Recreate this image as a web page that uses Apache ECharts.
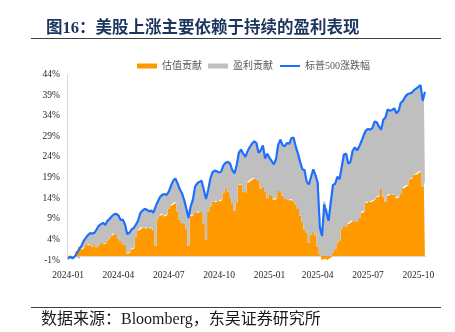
<!DOCTYPE html>
<html>
<head>
<meta charset="utf-8">
<script src="https://cdn.jsdelivr.net/npm/echarts@6/dist/echarts.min.js"></script>
<style>
  html, body { margin: 0; padding: 0; background: #fff; }
  #chart { width: 455px; height: 332px; }
</style>
</head>
<body>
<div id="chart"></div>
<script>
// Sampling: one point every 4 calendar days from the first session of 2024
const startDate = '2024-01-02';
const stepDays = 4;

// Quarter labels on the time axis
const tickLabels = ['2024-01', '2024-04', '2024-07', '2024-10', '2025-01', '2025-04', '2025-07', '2025-10'];

// S&P 500 cumulative change since end of 2023, %
const spx = [
  -0.7, -0.2, -0.6, -0.2, 0.7, 1.5, 2.3, 3.5, 4.3, 5.0,
  5.5, 5.4, 5.6, 6.4, 7.3, 7.7, 8.0, 7.5, 8.5, 9.0,
  9.6, 10.1, 10.2, 9.8, 8.7, 8.8, 7.6, 5.3, 5.6, 6.4,
  6.8, 7.6, 8.6, 10.4, 11.0, 11.4, 11.2, 10.8, 11.0, 10.5,
  12.0, 13.2, 14.3, 14.8, 15.0, 14.8, 15.6, 17.0, 18.2, 18.8,
  17.6, 16.2, 15.2, 13.6, 11.5, 9.2, 12.0, 13.6, 16.8, 17.6,
  18.0, 18.2, 16.0, 13.8, 16.0, 18.8, 20.3, 20.7, 20.5, 20.2,
  20.5, 22.0, 22.6, 22.8, 22.4, 20.8, 20.0, 22.0, 25.0, 25.8,
  24.8, 24.0, 25.4, 26.4, 27.2, 27.8, 27.4, 25.0, 25.6, 26.8,
  23.6, 24.8, 23.8, 23.0, 22.2, 23.5, 27.0, 28.2, 26.8, 26.6,
  27.4, 27.2, 28.5, 28.7, 26.5, 24.8, 22.8, 21.0, 20.8, 18.0,
  17.3, 19.2, 21.0, 19.6, 17.8, 7.0, 4.8, 12.5, 10.5, 8.5,
  13.0, 17.2, 17.5, 19.2, 18.6, 21.6, 24.6, 24.8, 22.4, 22.8,
  25.5, 26.3, 25.6, 26.5, 27.8, 29.2, 30.4, 30.8, 30.6, 31.0,
  32.6, 32.4, 31.4, 30.6, 33.0, 33.6, 35.5, 35.2, 35.4, 35.8,
  34.6, 35.2, 37.2, 37.6, 38.6, 39.2, 39.4, 39.6, 40.2, 40.6,
  41.0, 41.4, 37.6, 39.8
];

// Contribution from valuation (P/E change), %
const valuation = [
  -0.5, -0.3, -0.2, 0.0, 1.2, 2.2, 1.6, 2.0, 3.2, 2.6,
  2.8, 2.2, 2.9, 2.1, 2.6, 3.2, 2.8, 3.0, 3.8, 4.3,
  5.0, 5.4, 5.1, 4.2, 3.6, 3.0, 2.6, 0.6, 0.8, 1.6,
  2.0, 4.5, 6.2, 6.6, 7.0, 6.6, 7.0, 6.6, 6.8, 6.2,
  2.5, 9.0, 9.8, 10.2, 9.6, 10.0, 11.5, 12.2, 12.6, 13.0,
  10.8, 8.8, 8.0, 7.8, 6.5, 2.5, 9.6, 10.0, 10.6, 10.4,
  10.8, 10.6, 7.8, 4.0, 10.8, 12.0, 13.2, 13.0, 13.4, 13.2,
  13.6, 15.4, 16.6, 15.6, 14.2, 12.6, 11.0, 13.0, 17.2, 17.4,
  15.6, 15.4, 17.8, 18.2, 18.6, 19.0, 18.6, 18.2, 16.2, 16.8,
  15.6, 14.0, 15.0, 14.6, 13.6, 14.0, 15.8, 15.6, 14.6, 14.0,
  13.8, 13.4, 13.8, 13.2, 12.4, 11.4, 9.8, 8.2, 6.4, 5.6,
  3.2, 5.2, 5.8, 5.0, 2.2, 0.3, -0.9, -0.7, -1.0, -0.6,
  -0.3, 0.8, 1.6, 3.2, 3.8, 6.5, 7.4, 7.0, 7.8, 8.2,
  8.6, 8.4, 8.2, 9.2, 10.4, 10.8, 12.8, 13.2, 13.0, 13.4,
  13.6, 14.2, 14.6, 16.2, 14.4, 13.2, 14.6, 15.0, 14.8, 15.0,
  14.0, 14.4, 15.0, 16.4, 16.8, 17.2, 18.6, 18.8, 19.6, 19.8,
  20.2, 20.6, 16.8, 18.4
];

// Contribution from earnings (EPS growth), %
const earnings = [
  -0.2, 0.1, -0.4, -0.2, -0.5, -0.7, 0.7, 1.5, 1.1, 2.4,
  2.7, 3.2, 2.7, 4.3, 4.7, 4.5, 5.2, 4.5, 4.7, 4.7,
  4.6, 4.7, 5.1, 5.6, 5.1, 5.8, 5.0, 4.7, 4.8, 4.8,
  4.8, 3.1, 2.4, 3.8, 4.0, 4.8, 4.2, 4.2, 4.2, 4.3,
  9.5, 4.2, 4.5, 4.6, 5.4, 4.8, 4.1, 4.8, 5.6, 5.8,
  6.8, 7.4, 7.2, 5.8, 5.0, 6.7, 2.4, 3.6, 6.2, 7.2,
  7.2, 7.6, 8.2, 9.8, 5.2, 6.8, 7.1, 7.7, 7.1, 7.0,
  6.9, 6.6, 6.0, 7.2, 8.2, 8.2, 9.0, 9.0, 7.8, 8.4,
  9.2, 8.6, 7.6, 8.2, 8.6, 8.8, 8.8, 6.8, 9.4, 10.0,
  8.0, 10.8, 8.8, 8.4, 8.6, 9.5, 11.2, 12.6, 12.2, 12.6,
  13.6, 13.8, 14.7, 15.5, 14.1, 13.4, 13.0, 12.8, 14.4, 12.4,
  14.1, 14.0, 15.2, 14.6, 15.6, 6.7, 5.7, 13.2, 11.5, 9.1,
  13.3, 16.4, 15.9, 16.0, 14.8, 15.1, 17.2, 17.8, 14.6, 14.6,
  16.9, 17.9, 17.4, 17.3, 17.4, 18.4, 17.6, 17.6, 17.6, 17.6,
  19.0, 18.2, 16.8, 14.4, 18.6, 20.4, 20.9, 20.2, 20.6, 20.8,
  20.6, 20.8, 22.2, 21.2, 21.8, 22.0, 20.8, 20.8, 20.6, 20.8,
  20.8, 20.8, 20.8, 21.4
];

// Build the date categories for the x axis
const start = new Date(startDate + 'T00:00:00Z').getTime();
const dates = spx.map((_, i) => new Date(start + i * stepDays * 86400000).toISOString().slice(0, 10));

const SERIF = '"Liberation Serif", "Noto Sans CJK SC", serif';
const ORANGE = '#ff9900';
const GREY = '#bfbfbf';
const BLUE = '#1f6fff';

const chart = echarts.init(document.getElementById('chart'), null, { renderer: 'canvas' });

// Stepped, stacked areas read as columns without seams between neighbours
function contribution(name, data, color) {
  return {
    name: name,
    type: 'line',
    stack: 'total',
    step: 'middle',
    data: data,
    symbol: 'none',
    lineStyle: { width: 0, color: color },
    itemStyle: { color: color },
    areaStyle: { color: color, opacity: 1 },
    emphasis: { disabled: true }
  };
}

chart.setOption({
  animation: false,
  backgroundColor: '#ffffff',
  title: {
    text: '图16：美股上涨主要依赖于持续的盈利表现',
    left: 41,
    top: 15,
    textStyle: {
      fontFamily: SERIF,
      fontSize: 16.5,
      fontWeight: 'bold',
      color: '#1c355e'
    }
  },
  legend: {
    left: 132,
    top: 56,
    itemWidth: 20,
    itemHeight: 5,
    itemGap: 6,
    textStyle: { fontFamily: SERIF, fontSize: 10, color: '#595959' },
    data: [
      { name: '估值贡献', icon: 'rect' },
      { name: '盈利贡献', icon: 'rect' },
      // plain line key, no marker dot
      { name: '标普500涨跌幅', itemStyle: { opacity: 0 } }
    ]
  },
  grid: { left: 67, right: 29, top: 74.5, bottom: 72, containLabel: false },
  xAxis: {
    type: 'category',
    data: dates,
    boundaryGap: true,
    axisLine: { onZero: true, lineStyle: { color: '#d9d9d9', width: 1 } },
    axisTick: { show: false },
    axisLabel: {
      margin: 11,
      fontFamily: SERIF,
      fontSize: 9.5,
      color: '#262626',
      interval: (index, value) => {
        const key = value.slice(0, 7);
        if (!tickLabels.includes(key)) return false;
        return index === 0 || dates[index - 1].slice(0, 7) !== key;
      },
      formatter: (value) => value.slice(0, 7)
    },
    splitLine: { show: false }
  },
  yAxis: {
    type: 'value',
    min: -1,
    max: 44,
    interval: 5,
    axisLine: { show: true, lineStyle: { color: '#d9d9d9', width: 1 } },
    axisTick: { show: false },
    splitLine: { show: false },
    axisLabel: {
      margin: 7,
      fontFamily: SERIF,
      fontSize: 9.5,
      color: '#262626',
      formatter: '{value}%'
    }
  },
  series: [
    contribution('估值贡献', valuation, ORANGE),
    contribution('盈利贡献', earnings, GREY),
    {
      name: '标普500涨跌幅',
      type: 'line',
      data: spx,
      symbol: 'none',
      z: 5,
      lineStyle: { color: BLUE, width: 2.2 },
      itemStyle: { color: BLUE },
      emphasis: { disabled: true }
    }
  ],
  graphic: [
    {
      type: 'line',
      shape: { x1: 31, y1: 38.5, x2: 441, y2: 38.5 },
      style: { stroke: '#404040', lineWidth: 1 },
      silent: true
    },
    {
      type: 'line',
      shape: { x1: 31, y1: 307.5, x2: 441, y2: 307.5 },
      style: { stroke: '#404040', lineWidth: 1 },
      silent: true
    },
    {
      type: 'text',
      x: 41,
      y: 320,
      silent: true,
      style: {
        text: '数据来源：Bloomberg，东吴证券研究所',
        fontFamily: SERIF,
        fontSize: 16,
        fill: '#1a1a1a',
        verticalAlign: 'middle'
      }
    }
  ]
});
</script>
</body>
</html>
